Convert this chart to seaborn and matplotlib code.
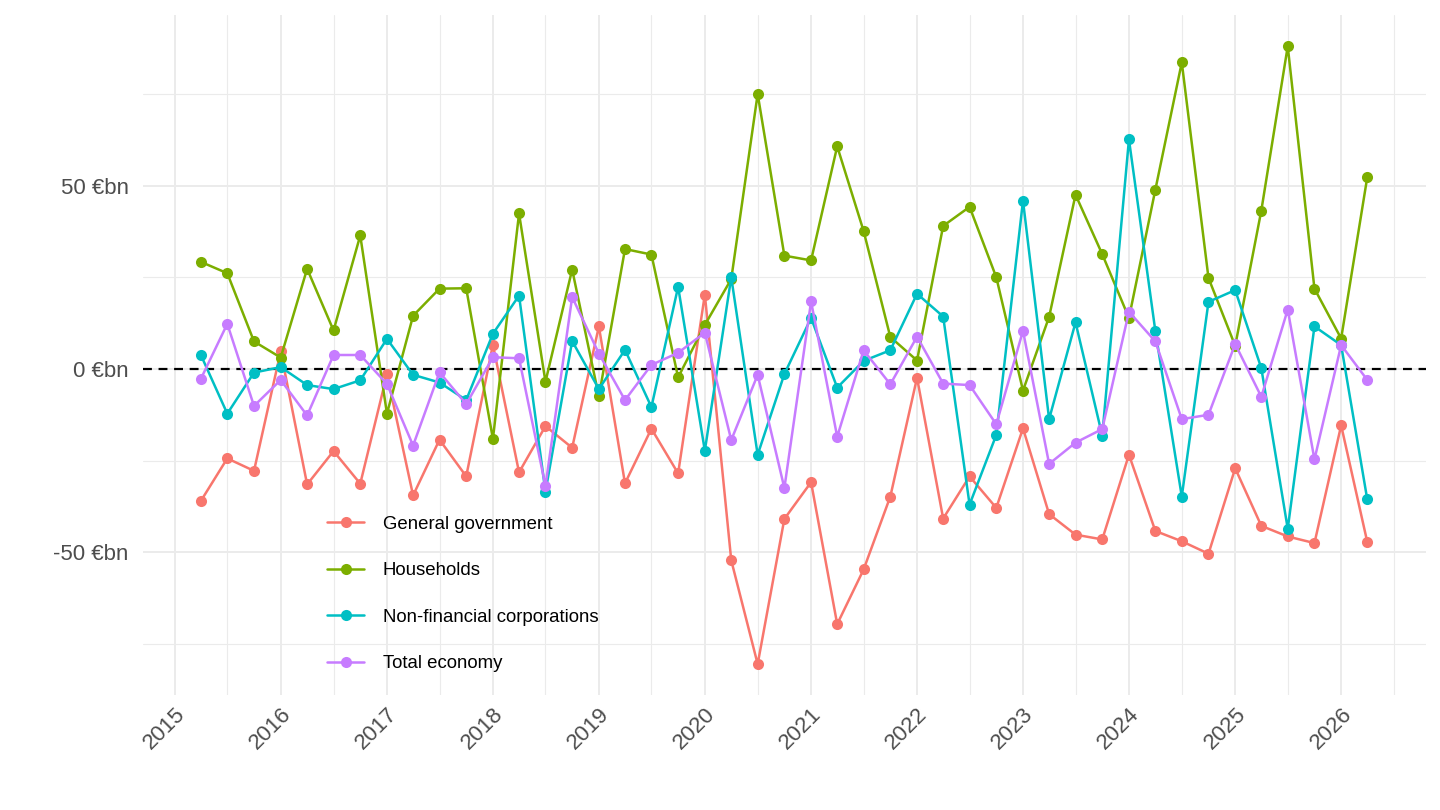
import matplotlib
matplotlib.use("Agg")
import matplotlib.pyplot as plt
import matplotlib.dates as mdates
from matplotlib.ticker import MultipleLocator, FuncFormatter
import seaborn as sns
import pandas as pd

sns.set_theme(style="white")
plt.rcParams['font.family'] = ['Liberation Sans', 'DejaVu Sans']

# quarterly dates, 2015Q2 .. 2026Q2
dates = pd.date_range("2015-04-01", "2026-04-01", freq="QS")

general_government = [
    -36.0, -24.4, -27.8, 4.8, -31.5, -22.4, -31.3, -1.5, -34.5, -19.3, -29.3,
    6.6, -28.2, -15.6, -21.5, 11.6, -31.2, -16.3, -28.5,
    20.3, -52.2, -80.5, -40.9, -30.9, -69.6, -54.7, -34.8, -2.4, -40.8, -29.3, -37.9,
    -16.2, -39.6, -45.2, -46.5, -23.4, -44.2, -47.0, -50.4, -27.1, -42.8, -45.7, -47.5, -15.4, -47.2,
]
households = [
    29.2, 26.1, 7.5, 3.1, 27.3, 10.5, 36.4, -12.2, 14.5, 21.9, 22.0,
    -19.1, 42.4, -3.5, 27.1, -7.5, 32.7, 31.2, -2.3,
    12.0, 24.5, 75.0, 30.9, 29.6, 60.7, 37.6, 8.7, 2.3, 39.0, 44.2, 25.0,
    -5.9, 14.2, 47.5, 31.3, 13.9, 48.9, 83.6, 24.8, 6.3, 43.2, 88.0, 21.9, 8.3, 52.3,
]
non_financial_corps = [
    3.8, -12.2, -1.0, 0.5, -4.4, -5.5, -3.1, 8.2, -1.6, -3.7, -8.5,
    9.6, 20.0, -33.5, 7.6, -5.5, 5.2, -10.4, 22.4,
    -22.3, 25.0, -23.4, -1.4, 13.9, -5.1, 2.2, 5.1, 20.5, 14.3, -37.0, -18.0,
    45.9, -13.7, 12.7, -18.2, 62.6, 10.3, -34.8, 18.3, 21.5, 0.2, -43.6, 11.6, 6.5, -35.6,
]
total_economy = [
    -2.7, 12.3, -10.1, -3.0, -12.7, 3.8, 3.8, -4.1, -20.9, -0.9, -9.6,
    3.2, 2.9, -31.9, 19.6, 4.2, -8.5, 1.1, 4.4,
    9.9, -19.4, -1.6, -32.5, 18.4, -18.5, 5.1, -4.2, 8.8, -4.0, -4.4, -15.1,
    10.4, -25.9, -20.1, -16.4, 15.6, 7.5, -13.7, -12.5, 6.8, -7.6, 16.2, -24.7, 6.5, -3.0,
]

sectors = ["General government", "Households", "Non-financial corporations", "Total economy"]
colors = ["#F8766D", "#7CAE00", "#00BFC4", "#C77CFF"]

frames = []
for name, vals in zip(sectors, [general_government, households, non_financial_corps, total_economy]):
    frames.append(pd.DataFrame({"date": dates, "value": vals, "sector": name}))
df = pd.concat(frames, ignore_index=True)

fig = plt.figure(figsize=(14.4, 8.1), dpi=100)
ax = fig.add_axes([0.099, 0.142, 0.891, 0.839])

ax.axhline(0, color="black", lw=1.6, ls=(0, (4, 3)), zorder=1)

sns.lineplot(data=df, x="date", y="value", hue="sector", hue_order=sectors,
             palette=colors, marker="o", markersize=8, markeredgewidth=0,
             linewidth=1.8, ax=ax, zorder=3)

# ggplot-like expansion of 5% on both axes
x0, x1 = mdates.date2num(dates[0]), mdates.date2num(dates[-1])
pad = (x1 - x0) * 0.05
ax.set_xlim(x0 - pad, x1 + pad)
vmin = min(min(general_government), min(households), min(non_financial_corps), min(total_economy))
vmax = max(max(general_government), max(households), max(non_financial_corps), max(total_economy))
ypad = (vmax - vmin) * 0.05
ax.set_ylim(vmin - ypad, vmax + ypad)

ax.xaxis.set_major_locator(mdates.YearLocator())
ax.xaxis.set_major_formatter(mdates.DateFormatter("%Y"))
ax.xaxis.set_minor_locator(mdates.MonthLocator(bymonth=7))
ax.yaxis.set_major_locator(MultipleLocator(50))
ax.yaxis.set_minor_locator(MultipleLocator(25))
ax.yaxis.set_major_formatter(FuncFormatter(lambda v, p: f"{v:.0f} €bn"))

ax.grid(True, which="major", color="#EBEBEB", lw=1.4, zorder=0)
ax.grid(True, which="minor", color="#EBEBEB", lw=0.8, zorder=0)
ax.set_axisbelow(True)
for s in ax.spines.values():
    s.set_visible(False)
ax.tick_params(which="both", length=0)
ax.tick_params(axis="y", labelsize=16, labelcolor="#4D4D4D", pad=10)
ax.tick_params(axis="x", labelsize=16, labelcolor="#4D4D4D", pad=6)
for lab in ax.get_xticklabels():
    lab.set_rotation(45)
    lab.set_ha("right")
    lab.set_rotation_mode("anchor")

ax.set_xlabel("")
ax.set_ylabel("")

leg = ax.legend(loc="upper left", bbox_to_anchor=(0.2155, 0.384), bbox_transform=fig.transFigure,
                frameon=False, fontsize=13.4, labelspacing=1.58, handlelength=2.0,
                handletextpad=1.0, title=None, labelcolor="black")

fig.savefig("out.png", dpi=100)
